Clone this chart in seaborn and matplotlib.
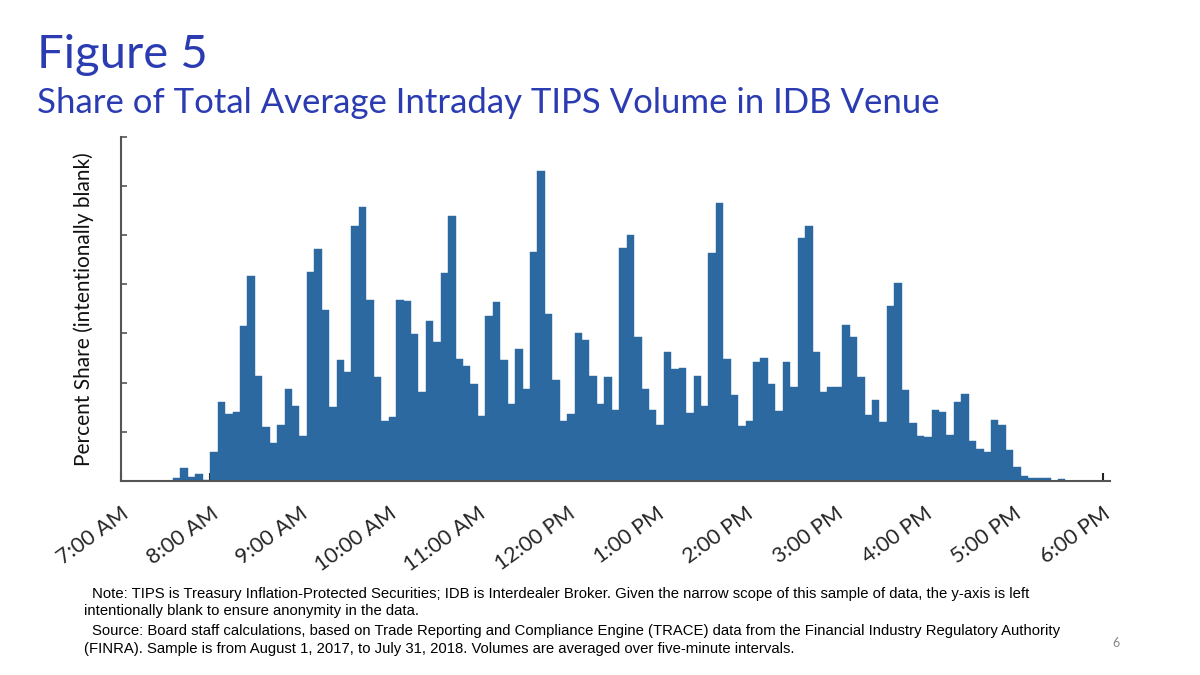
import numpy as np
import pandas as pd
import matplotlib
matplotlib.use("Agg")
import matplotlib.pyplot as plt
import seaborn as sns

# share per five-minute bin, 7:00 AM .. 5:55 PM (units of the hidden y ticks)
share = [
    0, 0, 0, 0, 0, 0, 0, 0.06, 0.26, 0.09, 0.14, 0.03,            # 7:00
    0.58, 1.61, 1.36, 1.41, 3.15, 4.17, 2.13, 1.10, 0.77, 1.14, 1.87, 1.53,  # 8:00
    0.91, 4.24, 4.72, 3.48, 1.50, 2.45, 2.21, 5.18, 5.57, 3.69, 2.11, 1.21,  # 9:00
    1.31, 3.69, 3.65, 2.99, 1.81, 3.25, 2.83, 4.22, 5.39, 2.49, 2.34, 1.97,  # 10:00
    1.32, 3.36, 3.64, 2.46, 1.56, 2.68, 1.88, 4.66, 6.31, 3.39, 2.05, 1.21,  # 11:00
    1.37, 3.01, 2.87, 2.13, 1.56, 2.11, 1.45, 4.73, 5.00, 2.93, 1.88, 1.44,  # 12:00
    1.14, 2.63, 2.28, 2.30, 1.38, 2.13, 1.52, 4.63, 5.65, 2.49, 1.74, 1.11,  # 1:00
    1.22, 2.41, 2.51, 1.98, 1.42, 2.42, 1.92, 4.95, 5.18, 2.62, 1.80, 1.92,  # 2:00
    1.92, 3.18, 2.93, 2.11, 1.35, 1.65, 1.19, 3.56, 4.02, 1.86, 1.17, 0.91,  # 3:00
    0.89, 1.45, 1.40, 0.93, 1.60, 1.77, 0.81, 0.66, 0.58, 1.25, 1.13, 0.64,  # 4:00
    0.28, 0.10, 0.06, 0.06, 0.06, 0.01, 0.04, 0, 0, 0, 0, 0,            # 5:00
]
tick_labels = ["7:00 AM", "8:00 AM", "9:00 AM", "10:00 AM", "11:00 AM", "12:00 PM",
               "1:00 PM", "2:00 PM", "3:00 PM", "4:00 PM", "5:00 PM", "6:00 PM"]

bar_color = "#2B69A0"
title_color = "#2B3CB3"

sns.set_style("white")
plt.rcParams["font.family"] = ["Lato", "DejaVu Sans"]

fig = plt.figure(figsize=(12, 6.75), dpi=100)
ax = fig.add_axes([0.1008, 0.2874, 0.8242, 0.5101])

df = pd.DataFrame({"bin": np.arange(len(share)) + 0.5, "share": share})
sns.barplot(data=df, x="bin", y="share", native_scale=True, width=1,
            color=bar_color, saturation=1, edgecolor=bar_color, linewidth=0.3, ax=ax)

ax.set_xlim(0, 133)
ax.set_ylim(0, 7)
ax.set_xticks(np.arange(0, 133, 12))
ax.set_xticklabels(tick_labels, rotation=36, ha="right", rotation_mode="anchor",
                   fontsize=15.5)
ax.set_yticks(np.arange(0, 8))
ax.set_yticklabels([])
ax.tick_params(axis="x", direction="in", length=6, width=1.5, color="#222222", pad=16)
ax.tick_params(axis="y", direction="in", length=4, width=1.2, color="#555555", left=True)
ax.tick_params(axis="x", bottom=True)
for s in ["top", "right"]:
    ax.spines[s].set_visible(False)
for s in ["left", "bottom"]:
    ax.spines[s].set_color("#555555")
    ax.spines[s].set_linewidth(1.5)
ax.set_ylabel("Percent Share (intentionally blank)", fontsize=15, color="#111111", labelpad=16)
ax.set_xlabel("")

fig.text(0.031, 0.9, "Figure 5", fontsize=34, color=title_color, va="baseline")
fig.text(0.031, 0.833, "Share of Total Average Intraday TIPS Volume in IDB Venue",
         fontsize=25, color=title_color, va="baseline")

note_font = ["Liberation Sans Narrow", "Liberation Sans", "DejaVu Sans"]
notes = [
    (0.0765, 0.114, "Note: TIPS is Treasury Inflation-Protected Securities; IDB is Interdealer Broker. "
                     "Given the narrow scope of this sample of data, the y-axis is left"),
    (0.07, 0.089, "intentionally blank to ensure anonymity in the data."),
    (0.0765, 0.06, "Source: Board staff calculations, based on Trade Reporting and Compliance Engine "
                    "(TRACE) data from the Financial Industry Regulatory Authority"),
    (0.07, 0.032, "(FINRA). Sample is from August 1, 2017, to July 31, 2018. "
                   "Volumes are averaged over five-minute intervals."),
]
for x, y, t in notes:
    fig.text(x, y, t, fontsize=10.7, family=note_font, color="black", va="baseline")
fig.text(0.927, 0.042, "6", fontsize=9, color="#888888", va="baseline")

fig.savefig("out.png", dpi=100)
